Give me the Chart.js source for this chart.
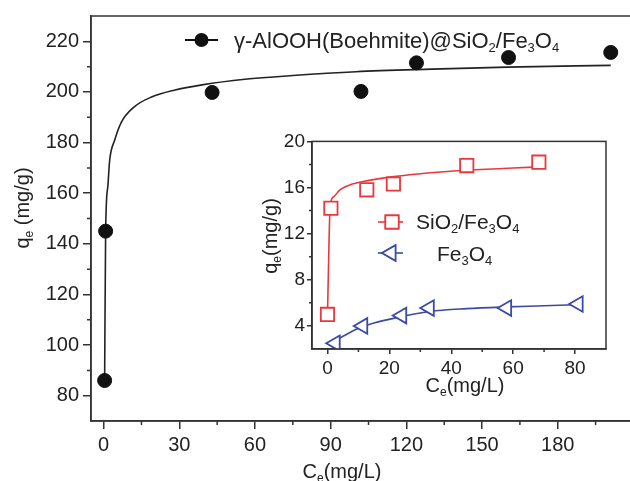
<!DOCTYPE html>
<html>
<head>
<meta charset="utf-8">
<script src="https://cdn.jsdelivr.net/npm/chart.js@4.4.1/dist/chart.umd.min.js"></script>
<style>
  html, body { margin: 0; padding: 0; background: #fff; overflow: hidden; }
  #wrap { position: relative; width: 630px; height: 481px; overflow: hidden; }
  #mainChart { position: absolute; left: 0; top: 0; }
  #insetChart { position: absolute; left: 255px; top: 128px; }
</style>
</head>
<body>
<div id="wrap">
  <canvas id="mainChart" width="640" height="481"></canvas>
  <canvas id="insetChart" width="365" height="270"></canvas>
</div>
<script>
// main plot: γ-AlOOH@SiO2/Fe3O4 isotherm
const mainCe = [0.4, 0.8, 43, 102, 124, 160.5, 201];
const mainQe = [86, 145, 199.8, 200.2, 211.5, 213.6, 215.6];
// fitted curve
const mainFitCe = [0.4, 0.8, 1.7, 2.4, 4.4, 7, 12, 19, 28, 39, 56, 75, 100, 130, 160, 201];
const mainFitQe = [86, 145, 163, 173, 181, 188, 194, 198, 200.7, 202.8, 205, 206.5, 208, 209, 209.8, 210.5];
const mainXTicks = [0, 30, 60, 90, 120, 150, 180];
const mainYTicks = [80, 100, 120, 140, 160, 180, 200, 220];
const mainLabel = 'γ-AlOOH(Boehmite)@SiO_2/Fe_3O_4';

// inset: SiO2/Fe3O4 and Fe3O4
const sioCe = [0, 1.1, 12.7, 21.3, 45, 68.3];
const sioQe = [5.0, 14.2, 15.8, 16.3, 17.9, 18.2];
const sioFitCe = [0, 0.9, 2, 4, 8, 13, 20, 30, 45, 60, 70];
const sioFitQe = [5.0, 14.5, 15.2, 15.8, 16.3, 16.6, 16.9, 17.2, 17.5, 17.7, 17.8];
const feCe = [2.5, 11.4, 24, 32.9, 57.9, 81];
const feQe = [2.5, 4.0, 4.9, 5.55, 5.55, 5.9];
const feFitCe = [1, 5, 10, 15, 22, 33, 45, 58, 70, 81];
const feFitQe = [2.5, 3.1, 3.8, 4.25, 4.7, 5.25, 5.5, 5.65, 5.75, 5.85];
const insetXTicks = [0, 20, 40, 60, 80];
const insetYTicks = [4, 8, 12, 16, 20];
const sioLabel = 'SiO_2/Fe_3O_4';
const feLabel = 'Fe_3O_4';

const FONT = "'Liberation Sans', Arial, sans-serif";
const AXIS = '#333';
const RED = '#e8383d';
const BLUE = '#3b4aa3';

const pts = (xs, ys) => xs.map((x, i) => ({ x, y: ys[i] }));

// "SiO_2" -> [['SiO', false], ['2', true]]
function splitSub(str) {
  const out = [];
  let buf = '';
  for (let i = 0; i < str.length; i++) {
    if (str[i] === '_') {
      if (buf) out.push([buf, false]);
      buf = '';
      out.push([str[i + 1], true]);
      i++;
    } else buf += str[i];
  }
  if (buf) out.push([buf, false]);
  return out;
}

function drawRich(ctx, str, x, y, size, align) {
  const parts = splitSub(str);
  const sub = Math.round(size * 0.6);
  ctx.textAlign = 'left';
  ctx.textBaseline = 'alphabetic';
  let w = 0;
  parts.forEach(([t, s]) => {
    ctx.font = (s ? sub : size) + 'px ' + FONT;
    w += ctx.measureText(t).width;
  });
  let cx = align === 'center' ? x - w / 2 : x;
  parts.forEach(([t, s]) => {
    ctx.font = (s ? sub : size) + 'px ' + FONT;
    ctx.fillText(t, cx, s ? y + size * 0.2 : y);
    cx += ctx.measureText(t).width;
  });
}

// frame round the plot area + small minor ticks
const framePlugin = {
  id: 'frame',
  afterDatasetsDraw(chart, args, o) {
    const { ctx, chartArea: a, scales: { x, y } } = chart;
    ctx.save();
    ctx.strokeStyle = AXIS;
    ctx.lineWidth = 1.5;
    ctx.strokeRect(a.left, a.top, a.right - a.left, a.bottom - a.top);
    ctx.beginPath();
    for (let v = o.xMinor[0]; v < x.max; v += o.xMinor[1]) {
      const p = x.getPixelForValue(v);
      ctx.moveTo(p, a.bottom);
      ctx.lineTo(p, a.bottom + o.len);
    }
    for (let v = o.yMinor[0]; v < y.max; v += o.yMinor[1]) {
      const p = y.getPixelForValue(v);
      ctx.moveTo(a.left, p);
      ctx.lineTo(a.left - o.len, p);
    }
    ctx.stroke();
    ctx.restore();
  }
};

const textPlugin = {
  id: 'texts',
  afterDraw(chart, args, o) {
    const ctx = chart.ctx;
    ctx.save();
    ctx.fillStyle = '#222';
    o.draw(ctx);
    ctx.restore();
  }
};

function axisOpts(min, max, ticks, size, tickLen, pad, fit) {
  return {
    type: 'linear',
    min, max,
    afterBuildTicks: s => { s.ticks = ticks.map(v => ({ value: v })); },
    afterFit: fit,
    border: { display: true, color: AXIS, width: 1.5 },
    grid: { drawOnChartArea: false, drawTicks: true, tickLength: tickLen, color: AXIS, lineWidth: 1.5 },
    ticks: { color: '#222', padding: pad, font: { family: FONT, size } }
  };
}

// main chart
new Chart(document.getElementById('mainChart'), {
  type: 'scatter',
  data: {
    datasets: [
      {
        data: pts(mainCe, mainQe),
        pointStyle: 'circle',
        pointRadius: 7,
        backgroundColor: '#111',
        borderColor: '#111',
        borderWidth: 1
      },
      {
        data: pts(mainFitCe, mainFitQe),
        showLine: true,
        pointRadius: 0,
        borderColor: '#222',
        borderWidth: 1.6,
        cubicInterpolationMode: 'monotone'
      }
    ]
  },
  options: {
    responsive: false,
    animation: false,
    layout: { autoPadding: false, padding: { top: 15, right: 0, left: 0, bottom: 0 } },
    plugins: {
      legend: { display: false },
      tooltip: { enabled: false },
      frame: { xMinor: [15, 30], yMinor: [90, 20], len: 4 },
      texts: {
        draw(ctx) {
          // legend
          ctx.strokeStyle = '#111';
          ctx.lineWidth = 2;
          ctx.beginPath();
          ctx.moveTo(185, 40);
          ctx.lineTo(218, 40);
          ctx.stroke();
          ctx.fillStyle = '#111';
          ctx.beginPath();
          ctx.arc(201.5, 40, 7, 0, Math.PI * 2);
          ctx.fill();
          ctx.fillStyle = '#222';
          drawRich(ctx, mainLabel, 234, 48, 22, 'left');
          // axis titles
          drawRich(ctx, 'C_e(mg/L)', 342, 478, 20, 'center');
          ctx.save();
          ctx.translate(29, 208);
          ctx.rotate(-Math.PI / 2);
          drawRich(ctx, 'q_e (mg/g)', 0, 0, 20, 'center');
          ctx.restore();
        }
      }
    },
    scales: {
      x: axisOpts(-5, 212.6, mainXTicks, 20, 8, 4, s => { s.height = 60; }),
      y: axisOpts(70, 230, mainYTicks, 20, 8, 4, s => { s.width = 91; })
    }
  },
  plugins: [framePlugin, textPlugin]
});

// inset chart
new Chart(document.getElementById('insetChart'), {
  type: 'scatter',
  data: {
    datasets: [
      {
        data: pts(sioCe, sioQe),
        pointStyle: 'rect',
        pointRadius: 9.4,
        backgroundColor: '#fff',
        borderColor: RED,
        borderWidth: 1.8
      },
      {
        data: pts(feCe, feQe),
        pointStyle: 'triangle',
        rotation: -90,
        pointRadius: 9,
        backgroundColor: '#fff',
        borderColor: BLUE,
        borderWidth: 1.8
      },
      {
        data: pts(sioFitCe, sioFitQe),
        showLine: true,
        pointRadius: 0,
        borderColor: RED,
        borderWidth: 1.6,
        cubicInterpolationMode: 'monotone'
      },
      {
        data: pts(feFitCe, feFitQe),
        showLine: true,
        pointRadius: 0,
        borderColor: BLUE,
        borderWidth: 1.6,
        cubicInterpolationMode: 'monotone'
      }
    ]
  },
  options: {
    responsive: false,
    animation: false,
    layout: { autoPadding: false, padding: { top: 12, right: 14, left: 0, bottom: 0 } },
    plugins: {
      legend: { display: false },
      tooltip: { enabled: false },
      frame: { xMinor: [10, 20], yMinor: [6, 4], len: 3 },
      texts: {
        draw(ctx) {
          // legend entries
          ctx.lineWidth = 1.6;
          ctx.strokeStyle = RED;
          ctx.beginPath();
          ctx.moveTo(123, 94);
          ctx.lineTo(148, 94);
          ctx.stroke();
          Chart.helpers.drawPoint(ctx, { pointStyle: 'rect', radius: 9.4, rotation: 0, borderWidth: 1.8 }, 137, 94);
          ctx.fillStyle = '#fff';
          ctx.fill();
          ctx.stroke();
          ctx.strokeStyle = BLUE;
          ctx.beginPath();
          ctx.moveTo(123, 125);
          ctx.lineTo(148, 125);
          ctx.stroke();
          Chart.helpers.drawPoint(ctx, { pointStyle: 'triangle', radius: 9, rotation: -90, borderWidth: 1.8 }, 136, 125);
          ctx.fillStyle = '#fff';
          ctx.fill();
          ctx.stroke();
          ctx.fillStyle = '#222';
          drawRich(ctx, sioLabel, 161, 101, 21, 'left');
          drawRich(ctx, feLabel, 182, 133, 21, 'left');
          // axis titles
          drawRich(ctx, 'C_e(mg/L)', 210, 264, 20, 'center');
          ctx.save();
          ctx.translate(22, 108);
          ctx.rotate(-Math.PI / 2);
          drawRich(ctx, 'q_e(mg/g)', 0, 0, 20, 'center');
          ctx.restore();
        }
      }
    },
    scales: {
      x: axisOpts(-5, 90, insetXTicks, 19, 5, 3, s => { s.height = 49; }),
      y: axisOpts(2, 20, insetYTicks, 19, 5, 2, s => { s.width = 57; })
    }
  },
  plugins: [framePlugin, textPlugin]
});
</script>
</body>
</html>
